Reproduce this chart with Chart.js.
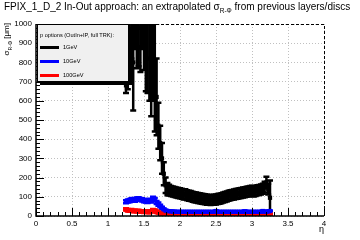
<!DOCTYPE html>
<html>
<head>
<meta charset="utf-8">
<script src="https://cdn.jsdelivr.net/npm/chart.js@4/dist/chart.umd.min.js"></script>
<style>
  body { margin: 0; background: #fff; }
  #wrap { position: relative; width: 360px; height: 240px; font-family: "Liberation Sans", Arial, sans-serif; }
  #title { position: absolute; left: 4px; top: 1px; font-size: 10px; white-space: nowrap; color: #000; }
  #title sub, #ylab sub { font-size: 0.65em; }
  #ylab { position: absolute; left: 1px; top: 83px; width: 60px; text-align: right; font-size: 8px; line-height: 11px;
          transform-origin: 0 0; transform: rotate(-90deg); white-space: nowrap; }
  #xlab { position: absolute; left: 319px; top: 224px; font-size: 9px; }
  #legend { position: absolute; left: 37px; top: 24px; width: 92px; height: 58px; box-sizing: border-box;
            background: #f0f0f0; border: 1px solid #000; box-shadow: 3px 3px 0 #000; font-size: 5.6px; }
  #legend .hd { position: absolute; left: 2px; top: 7px; white-space: nowrap; }
  #legend .row { position: absolute; left: 2px; height: 8px; white-space: nowrap; }
  #legend .ln { position: absolute; left: 0; top: 3px; width: 19px; height: 3px; }
  #legend .tx { position: absolute; left: 23px; top: 1px; }
</style>
</head>
<body>
<div id="wrap">
  <canvas id="c" width="360" height="240"></canvas>
  <div id="title">FPIX_1_D_2 In-Out approach: an extrapolated σ<sub>R-Φ</sub> from previous layers/discs</div>
  <div id="ylab">σ<sub>R-Φ</sub> [μm]</div>
  <div id="xlab">η</div>
  <div id="legend"></div>
</div>
<script>
const etaBins = [
  1.250, 1.275, 1.300, 1.325, 1.350, 1.375, 1.400, 1.425, 1.450, 1.475,
  1.500, 1.525, 1.550, 1.575, 1.600, 1.625, 1.650, 1.675, 1.700, 1.725,
  1.750, 1.775, 1.800, 1.825, 1.850, 1.875, 1.900, 1.925, 1.950, 1.975,
  2.000, 2.025, 2.050, 2.075, 2.100, 2.125, 2.150, 2.175, 2.200, 2.225,
  2.250, 2.275, 2.300, 2.325, 2.350, 2.375, 2.400, 2.425, 2.450, 2.475,
  2.500, 2.525, 2.550, 2.575, 2.600, 2.625, 2.650, 2.675, 2.700, 2.725,
  2.750, 2.775, 2.800, 2.825, 2.850, 2.875, 2.900, 2.925, 2.950, 2.975,
  3.000, 3.025, 3.050, 3.075, 3.100, 3.125, 3.150, 3.175, 3.200, 3.225,
  3.250];

const sigma1GeV = [
  680, 720, 860, 940, 800, 1020, 920, 980, 880, 1050,
  960, 900, 820, 1100, 900, 1050, 760, 620, 470, 380,
  300, 220, 160, 140, 135, 130, 128, 125, 122, 120,
  118, 116, 112, 113, 108, 106, 104, 100, 98, 96,
  94, 92, 90, 88, 87, 85, 84, 83, 84, 85,
  86, 88, 90, 93, 96, 99, 102, 106, 108, 110,
  112, 114, 116, 118, 120, 122, 124, 126, 128, 130,
  132, 128, 130, 134, 136, 138, 142, 150, 175, 140,
  95];
const err1GeV = [
  40, 60, 150, 120, 250, 150, 150, 200, 130, 180,
  200, 250, 180, 500, 380, 450, 320, 200, 120, 90,
  80, 60, 40, 32, 28, 26, 26, 26, 26, 26,
  26, 26, 26, 26, 26, 26, 26, 26, 26, 26,
  26, 26, 26, 26, 26, 26, 26, 26, 26, 26,
  26, 26, 26, 26, 26, 26, 26, 26, 26, 26,
  26, 26, 26, 26, 26, 26, 26, 26, 26, 26,
  26, 26, 26, 26, 26, 26, 26, 28, 30, 28,
  90];

const sigma10GeV = [
  74, 78, 80, 84, 86, 82, 88, 90, 86, 84,
  80, 78, 76, 82, 78, 92, 86, 70, 62, 52,
  42, 34, 28, 26, 25, 24, 23, 23, 22, 22,
  22, 22, 22, 22, 22, 22, 22, 22, 22, 22,
  22, 22, 22, 22, 22, 22, 22, 22, 22, 22,
  26, 22, 22, 22, 22, 22, 22, 22, 22, 22,
  22, 22, 22, 22, 22, 22, 25, 22, 22, 22,
  22, 22, 22, 22, 22, 22, 26, 22, 22, 24,
  26];
const err10GeV = [
  8, 8, 8, 8, 8, 8, 8, 8, 8, 8,
  8, 8, 8, 8, 8, 8, 8, 8, 8, 7,
  6, 5, 4, 3, 3, 3, 3, 3, 3, 3,
  3, 3, 3, 3, 3, 3, 3, 3, 3, 3,
  3, 3, 3, 3, 3, 3, 3, 3, 3, 3,
  3, 3, 3, 3, 3, 3, 3, 3, 3, 3,
  3, 3, 3, 3, 3, 3, 3, 3, 3, 3,
  3, 3, 3, 3, 3, 3, 3, 3, 3, 3,
  3];

const sigma100GeV = [
  34, 30, 28, 30, 26, 27, 25, 26, 24, 23,
  22, 24, 22, 20, 24, 30, 28, 22, 18, 15,
  13, 11, 10, 9, 9, 8, 8, 8, 8, 8,
  8, 8, 8, 8, 8, 8, 8, 8, 8, 8,
  8, 8, 8, 8, 8, 8, 8, 8, 8, 8,
  8, 8, 8, 8, 8, 8, 8, 8, 8, 8,
  8, 8, 8, 8, 8, 8, 8, 8, 8, 8,
  8, 8, 8, 8, 8, 8, 8, 8, 8, 8,
  8];
const err100GeV = [
  6, 6, 6, 6, 6, 6, 6, 6, 6, 6,
  6, 6, 6, 6, 6, 6, 6, 6, 5, 5,
  5, 4, 4, 4, 4, 4, 4, 4, 4, 4,
  4, 4, 4, 4, 4, 4, 4, 4, 4, 4,
  4, 4, 4, 4, 4, 4, 4, 4, 4, 4,
  4, 4, 4, 4, 4, 4, 4, 4, 4, 4,
  4, 4, 4, 4, 4, 4, 4, 4, 4, 4,
  4, 4, 4, 4, 4, 4, 4, 4, 4, 4,
  4];

const seriesLabels = ['1GeV', '10GeV', '100GeV'];
const seriesColors = ['#000000', '#0000ff', '#ff0000'];
const seriesValues = [sigma1GeV, sigma10GeV, sigma100GeV];
const seriesErrors = [err1GeV, err10GeV, err100GeV];

// legend (ROOT style box)
const legend = document.getElementById('legend');
legend.innerHTML = '<div class="hd">p options (OutIn+IP, full TRK):</div>' +
  seriesLabels.map((l, i) => `<div class="row" style="top:${18 + i * 14}px"><div class="ln" style="background:${seriesColors[i]}"></div><div class="tx">${l}</div></div>`).join('');

const errorBars = {
  id: 'errorBars',
  beforeDatasetsDraw(chart) {
    const { ctx, chartArea, scales: { x, y } } = chart;
    ctx.save();
    ctx.beginPath();
    ctx.rect(chartArea.left, chartArea.top, chartArea.right - chartArea.left, chartArea.bottom - chartArea.top);
    ctx.clip();
    chart.data.datasets.forEach((ds, i) => {
      ctx.strokeStyle = seriesColors[i];
      ctx.lineWidth = 2.5;
      ds.data.forEach((p, j) => {
        const px = x.getPixelForValue(p.x);
        const lo = y.getPixelForValue(p.y - seriesErrors[i][j]);
        const hi = y.getPixelForValue(p.y + seriesErrors[i][j]);
        ctx.beginPath();
        ctx.moveTo(px, lo); ctx.lineTo(px, hi);
        ctx.moveTo(px - 3, lo); ctx.lineTo(px + 3, lo);
        ctx.moveTo(px - 3, hi); ctx.lineTo(px + 3, hi);
        ctx.stroke();
      });
    });
    ctx.restore();
  }
};

const frame = {
  id: 'frame',
  afterDraw(chart) {
    const { ctx, chartArea: a, scales: { x, y } } = chart;
    ctx.save();
    ctx.strokeStyle = '#000';
    ctx.lineWidth = 1;
    ctx.setLineDash([3, 2]);
    ctx.beginPath();
    ctx.moveTo(a.left, a.top + 0.5); ctx.lineTo(a.right + 0.5, a.top + 0.5);
    ctx.lineTo(a.right + 0.5, a.bottom);
    ctx.stroke();
    ctx.setLineDash([]);
    ctx.lineWidth = 1.5;
    ctx.beginPath();
    ctx.moveTo(a.left, a.top); ctx.lineTo(a.left, a.bottom); ctx.lineTo(a.right, a.bottom);
    ctx.stroke();
    // inward ticks
    ctx.lineWidth = 1;
    ctx.beginPath();
    for (let k = 0; k <= 50; k++) {
      const py = Math.round(y.getPixelForValue(k * 20)) + 0.5;
      const len = k % 5 === 0 ? 8 : 4;
      ctx.moveTo(a.left, py); ctx.lineTo(a.left + len, py);
    }
    for (let k = 0; k <= 40; k++) {
      const px = Math.round(x.getPixelForValue(k * 0.1)) + 0.5;
      const len = k % 5 === 0 ? 8 : 4;
      ctx.moveTo(px, a.bottom); ctx.lineTo(px, a.bottom - len);
    }
    ctx.stroke();
    ctx.restore();
  }
};

new Chart(document.getElementById('c'), {
  type: 'scatter',
  data: {
    datasets: seriesValues.map((vals, i) => ({
      label: seriesLabels[i],
      data: etaBins.map((e, j) => ({ x: e, y: vals[j] })),
      backgroundColor: seriesColors[i],
      borderColor: seriesColors[i],
      pointStyle: 'rect',
      pointRadius: 3,
      borderWidth: 0,
      showLine: false
    }))
  },
  options: {
    responsive: false,
    animation: false,
    events: [],
    layout: { padding: { top: 24, right: 36, left: 0, bottom: 0 } },
    plugins: { legend: { display: false }, tooltip: { enabled: false } },
    scales: {
      x: {
        type: 'linear', min: 0, max: 4,
        ticks: { stepSize: 0.5, color: '#000', padding: 3, font: { family: 'Liberation Sans', size: 8 },
                 callback: v => String(v) },
        grid: { color: '#c0c0c0', drawTicks: false },
        border: { display: false, dash: [1, 2] },
        afterFit: s => { s.height = 24; }
      },
      y: {
        min: 0, max: 1000,
        ticks: { stepSize: 100, color: '#000', padding: 4, font: { family: 'Liberation Sans', size: 8 },
                 callback: v => String(v) },
        grid: { color: '#c0c0c0', drawTicks: false },
        border: { display: false, dash: [1, 2] },
        afterFit: s => { s.width = 36; }
      }
    }
  },
  plugins: [errorBars, frame]
});
</script>
</body>
</html>
